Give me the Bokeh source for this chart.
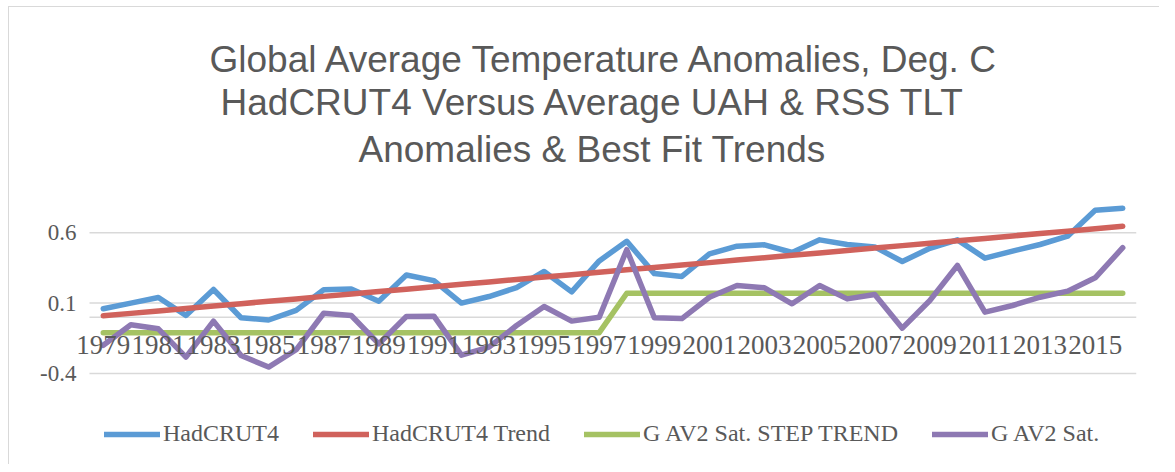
from bokeh.plotting import figure
from bokeh.models import (Range1d, FixedTicker, LinearAxis, Legend, LegendItem,
                          Title, ColumnDataSource, LabelSet)
from bokeh.embed import file_html
from bokeh.resources import INLINE

years = [1979, 1980, 1981, 1982, 1983, 1984, 1985, 1986, 1987, 1988,
         1989, 1990, 1991, 1992, 1993, 1994, 1995, 1996, 1997,
         1998, 1999, 2000, 2001, 2002, 2003, 2004, 2005, 2006, 2007,
         2008, 2009, 2010, 2011, 2012, 2013, 2014, 2015, 2016]

hadcrut4 = [0.06, 0.10, 0.14, 0.012, 0.197, -0.004, -0.02, 0.048, 0.195, 0.20,
            0.114, 0.30, 0.26, 0.10, 0.147, 0.21, 0.325, 0.18, 0.40,
            0.54, 0.31, 0.29, 0.45, 0.505, 0.515, 0.46, 0.55, 0.517, 0.50,
            0.396, 0.49, 0.55, 0.42, 0.47, 0.517, 0.576, 0.76, 0.775]

hadcrut4_trend = [0.010, 0.027, 0.044, 0.062, 0.079, 0.096, 0.113, 0.130, 0.148, 0.165,
                  0.182, 0.199, 0.216, 0.234, 0.251, 0.268, 0.285, 0.302, 0.320,
                  0.337, 0.354, 0.371, 0.388, 0.406, 0.423, 0.440, 0.457, 0.474, 0.492,
                  0.509, 0.526, 0.543, 0.560, 0.578, 0.595, 0.612, 0.629, 0.647]

sat_step_trend = [-0.11, -0.11, -0.11, -0.11, -0.11, -0.11, -0.11, -0.11, -0.11, -0.11,
                  -0.11, -0.11, -0.11, -0.11, -0.11, -0.11, -0.11, -0.11, -0.11,
                  0.17, 0.17, 0.17, 0.17, 0.17, 0.17, 0.17, 0.17, 0.17, 0.17,
                  0.17, 0.17, 0.17, 0.17, 0.17, 0.17, 0.17, 0.17, 0.17]

sat_av2 = [-0.20, -0.054, -0.083, -0.284, -0.028, -0.272, -0.355, -0.232, 0.028, 0.012,
           -0.19, 0.005, 0.007, -0.27, -0.213, -0.059, 0.076, -0.028, 0.0,
           0.48, -0.004, -0.01, 0.142, 0.225, 0.209, 0.095, 0.225, 0.13, 0.161,
           -0.078, 0.119, 0.368, 0.036, 0.083, 0.142, 0.185, 0.28, 0.494]

x_label_years = [1979, 1981, 1983, 1985, 1987, 1989, 1991, 1993, 1995, 1997,
                 1999, 2001, 2003, 2005, 2007, 2009, 2011, 2013, 2015]
x_label_text = ["1979", "1981", "1983", "1985", "1987", "1989", "1991", "1993", "1995", "1997",
                "1999", "2001", "2003", "2005", "2007", "2009", "2011", "2013", "2015"]

y_ticks = [-0.4, 0.1, 0.6]
y_tick_labels = ["-0.4", "0.1", "0.6"]
zero_level = [0.0]

title_lines = ["Global Average Temperature Anomalies, Deg. C",
               "HadCRUT4 Versus Average UAH & RSS TLT",
               "Anomalies & Best Fit Trends"]
title_offsets = [137, 148, 286]
title_standoffs = [0, 0, 8]

series_names = ["HadCRUT4", "HadCRUT4 Trend", "G AV2 Sat. STEP TREND", "G AV2 Sat."]
colors = ["#5B9BD5", "#D0625C", "#A5C263", "#8E79B3"]

TEXT = "#595959"
GRID = "#D9D9D9"
SERIF = "Liberation Serif"

x_start = years[0] - 0.5
x_end = years[-1] + 0.5

p = figure(width=1159, height=464, output_backend="svg", toolbar_location=None,
           x_range=Range1d(1977.883, x_end), y_range=Range1d(-1.048, 1.022),
           x_axis_location=None, y_axis_location=None,
           min_border_left=72, min_border_right=23, min_border_top=173, min_border_bottom=0)
p.styles = {"background": ("linear-gradient(#d9d9d9,#d9d9d9) 8px 6px / 1px 100% no-repeat, "
                           "linear-gradient(#d9d9d9,#d9d9d9) 8px 6px / 100% 1px no-repeat, white")}
p.outline_line_color = None
p.background_fill_color = None
p.border_fill_color = None
p.xgrid.visible = False
p.ygrid.visible = False

# titles (last added sits on top)
for line, off, so in reversed(list(zip(title_lines, title_offsets, title_standoffs))):
    t = Title(text=line, align="left", text_font="Liberation Sans",
              text_font_size="37px", text_font_style="normal", text_color=TEXT,
              standoff=so, offset=off)
    p.add_layout(t, "above")

yaxis = LinearAxis(ticker=FixedTicker(ticks=y_ticks),
                   major_label_overrides={k: v for k, v in zip(y_ticks, y_tick_labels)})
yaxis.axis_line_color = None
yaxis.major_tick_line_color = None
yaxis.minor_tick_line_color = None
yaxis.major_tick_out = 0
yaxis.major_tick_in = 0
yaxis.major_label_text_font = SERIF
yaxis.major_label_text_font_size = "23px"
yaxis.major_label_text_color = TEXT
yaxis.major_label_standoff = -4
p.add_layout(yaxis, "left")

# horizontal gridlines across the category span, plus the category axis line at 0
grid_levels = y_ticks + zero_level
p.segment(x0=[x_start] * len(grid_levels), x1=[x_end] * len(grid_levels),
          y0=grid_levels, y1=grid_levels, line_color=GRID, line_width=1.5)

src = ColumnDataSource(dict(x=years, a=hadcrut4, b=hadcrut4_trend, c=sat_step_trend, d=sat_av2))
renderers = []
for col, color in zip(["a", "b", "c", "d"], colors):
    r = p.line("x", col, source=src, line_color=color, line_width=5.5,
               line_join="round", line_cap="round")
    renderers.append(r)

lab_src = ColumnDataSource(dict(x=x_label_years, y=[0] * len(x_label_years), t=x_label_text))
labels = LabelSet(x="x", y="y", text="t", source=lab_src, text_font=SERIF, text_font_size="27px",
                  text_color=TEXT, text_align="center", text_baseline="middle", y_offset=-28)
p.add_layout(labels)

legend = Legend(items=[LegendItem(label=n, renderers=[r]) for n, r in zip(series_names, renderers)],
                orientation="horizontal", location=(32, 17))
legend.label_text_font = SERIF
legend.label_text_font_size = "24px"
legend.label_text_color = TEXT
legend.glyph_width = 56
legend.glyph_height = 20
legend.label_standoff = 3
legend.spacing = 34
legend.border_line_color = None
legend.background_fill_alpha = 0
legend.margin = 0
legend.padding = 0
p.add_layout(legend, "center")

open("out.html", "w").write(file_html(p, INLINE))
